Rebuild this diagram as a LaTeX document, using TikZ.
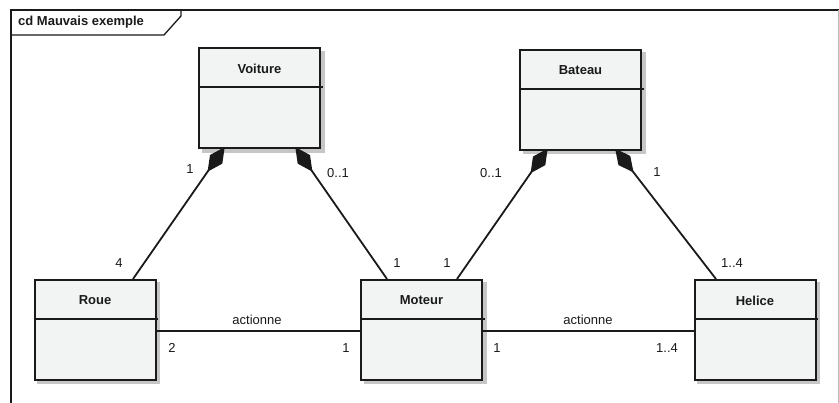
\documentclass[tikz,border=0pt]{standalone}
\usepackage{fontspec}
\setmainfont{Liberation Sans}
\usetikzlibrary{arrows.meta,calc,backgrounds}
\definecolor{boxfill}{HTML}{F2F3F3}
\definecolor{shadowgray}{HTML}{C6C6C6}
\definecolor{ink}{HTML}{1A1A1A}
\begin{document}
\begin{tikzpicture}[x=1pt,y=-1pt,
  umlclass/.style={draw=ink, line width=2pt, fill=boxfill, minimum width=121pt, minimum height=100pt, inner sep=0pt},
  cname/.style={font=\fontsize{13}{15}\selectfont\bfseries, inner sep=0pt, text=ink},
  mult/.style={font=\fontsize{13}{15}\selectfont, inner sep=0pt, text=ink},
  divider/.style={line width=2pt, draw=ink},
  shadowbox/.style={fill=shadowgray},
  comp/.style={line width=1.8pt, draw=ink, -{Diamond[length=30pt,width=15pt]}, shorten >=-3pt},
  assoc/.style={line width=1.8pt, draw=ink},
  frameline/.style={line width=2pt, draw=ink}]

\useasboundingbox (0,0) rectangle (839,403);

% frame
\draw[frameline] (11,403) -- (11,10) -- (839,10);
\draw[gray!55, line width=1pt] (838.5,10) -- (838.5,403);
\draw[line width=1.3pt, draw=ink] (11,35) -- (164,35) -- (181,16) -- (181,10);
\node[cname, anchor=west] (title) at (18,22) {cd Mauvais exemple};

% classes
\node[umlclass] (voiture) at (259.5,98.5) {};
\node[umlclass] (bateau) at (580.5,100) {};
\node[umlclass] (roue) at (95,330) {};
\node[umlclass] (moteur) at (421.5,330) {};
\node[umlclass] (helice) at (755,330) {};

\foreach \n/\t in {voiture/Voiture, bateau/Bateau, roue/Roue, moteur/Moteur, helice/Helice}{
  \node[cname] (\n name) at ($(\n.north)+(0,21.5)$) {\t};
  \draw[divider] ($(\n.north west)+(0,40)$) -- ($(\n.north east)+(1.5,40)$);
}

% shadows and connectors behind the classes
\begin{scope}[on background layer]
  \fill[white] (0,0) rectangle (839,403);
  \foreach \n in {voiture, bateau, roue, moteur, helice}{
    \fill[shadowbox] ($(\n.south west)+(3.5,3.5)$) rectangle ($(\n.north east)+(3.5,3.5)$);
  }
  \draw[comp] ($(roue.north west)+(99.5,0)$) -- ($(voiture.south west)+(25,0)$);
  \draw[comp] ($(moteur.north west)+(27,0)$) -- ($(voiture.south west)+(99,0)$);
  \draw[comp] ($(moteur.north west)+(97,0)$) -- ($(bateau.south west)+(27,0)$);
  \draw[comp] ($(helice.north west)+(22.5,0)$) -- ($(bateau.south west)+(98,0)$);
  \draw[assoc] ($(roue.east)+(0,1)$) -- ($(moteur.west)+(0,1)$);
  \draw[assoc] ($(moteur.east)+(0,1)$) -- ($(helice.west)+(0,1)$);
\end{scope}

% association labels
\node[mult] (act1) at (257,320) {actionne};
\node[mult] (act2) at (588,320) {actionne};

% multiplicities
\node[mult] (m1) at (190,169) {1};
\node[mult] (m2) at (338,173) {0..1};
\node[mult] (m3) at (119,263) {4};
\node[mult] (m4) at (397,263) {1};
\node[mult] (m5) at (447,263) {1};
\node[mult] (m6) at (491,173) {0..1};
\node[mult] (m7) at (657,172) {1};
\node[mult] (m8) at (732,263) {1..4};
\node[mult] (m9) at (172,348) {2};
\node[mult] (m10) at (346,348) {1};
\node[mult] (m11) at (497,348) {1};
\node[mult] (m12) at (667,348) {1..4};
\end{tikzpicture}
\end{document}
